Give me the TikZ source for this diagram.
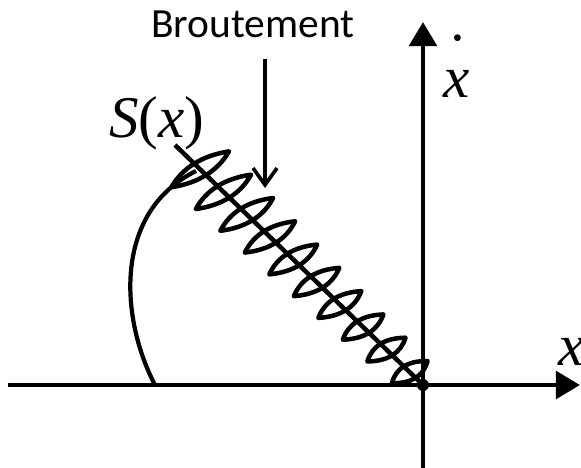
\documentclass[tikz,border=0pt]{standalone}
\usepackage{fontspec}
\setmainfont{Liberation Serif}
\newfontfamily\calloutfont{Carlito}
\usetikzlibrary{arrows.meta, calc}
\tikzset{
  axis/.style={line width=3.4pt, -{Triangle[length=0.6cm, width=0.68cm]}},
  springline/.style={line width=3.2pt, line join=round},
  arcline/.style={line width=3pt},
  callout/.style={line width=2.6pt, -{Straight Barb[length=0.42cm, width=0.6cm, line width=2.6pt]}},
  calloutlabel/.style={font=\calloutfont\fontsize{29.5}{32}\selectfont, inner sep=0pt, anchor=base},
  mathlabel/.style={font=\fontsize{42}{46}\selectfont\itshape, inner sep=0pt, anchor=base},
}

\begin{document}
\begin{tikzpicture}[x=0.025cm, y=-0.025cm]

  % --- Frame ---
  \useasboundingbox (0,0) rectangle (581,468);
  \clip (0,0) rectangle (581,468);

  % --- Axes ---
  \coordinate (o) at (423,385);
  \coordinate (xstart) at (8,385);
  \coordinate (xend) at (580,385);
  \coordinate (ystart) at (423,470);
  \coordinate (yend) at (423,22);
  \draw[axis] (xstart) -- (xend);
  \draw[axis] (ystart) -- (yend);

  % --- Labels ---
  \node[mathlabel] (xlabel) at (572,365) {x};
  \node[mathlabel] (xdotlabel) at (457,97)
    {x\llap{\makebox[17.8pt]{\raisebox{35pt}{\fontsize{20}{20}\selectfont\upshape •}}}};
  \node[mathlabel] (slabel) at (157,137) {S\upshape(\itshape x\upshape)};
  \node[calloutlabel] (brout) at (253,37) {Broutement};

  % --- Spring ---
  \coordinate (stop) at (175,145);
  \draw[springline] (stop) -- (o);
  \begin{scope}[shift={(stop)}, rotate=-44.06]
    \foreach \n in {0,...,9} {
      \pgfmathsetmacro\c{35+32.4*\n}
      \pgfmathsetmacro\a{33-1.4*\n}
      \pgfmathsetmacro\s{0.25*\a}
      \draw[springline] ({\c-\s},{\a})
        .. controls ({\c-\s/3+11},{\a/3}) and ({\c+\s/3+11},{-\a/3}) .. ({\c+\s},{-\a})
        .. controls ({\c+\s/3-11},{-\a/3}) and ({\c-\s/3-11},{\a/3}) .. cycle;
    }
  \end{scope}
  \fill (o) circle (6);

  % --- Angle arc ---
  \coordinate (arcfoot) at (155,385);
  \coordinate (arctop) at (196,171);
  \draw[arcline] (arcfoot) .. controls (120,318) and (113,212) .. (arctop);

  % --- Callout arrow ---
  \coordinate (brouttip) at (265,188);
  \draw[callout, shorten <=0.525cm] (brout.south -| brouttip) -- (brouttip);

\end{tikzpicture}
\end{document}
